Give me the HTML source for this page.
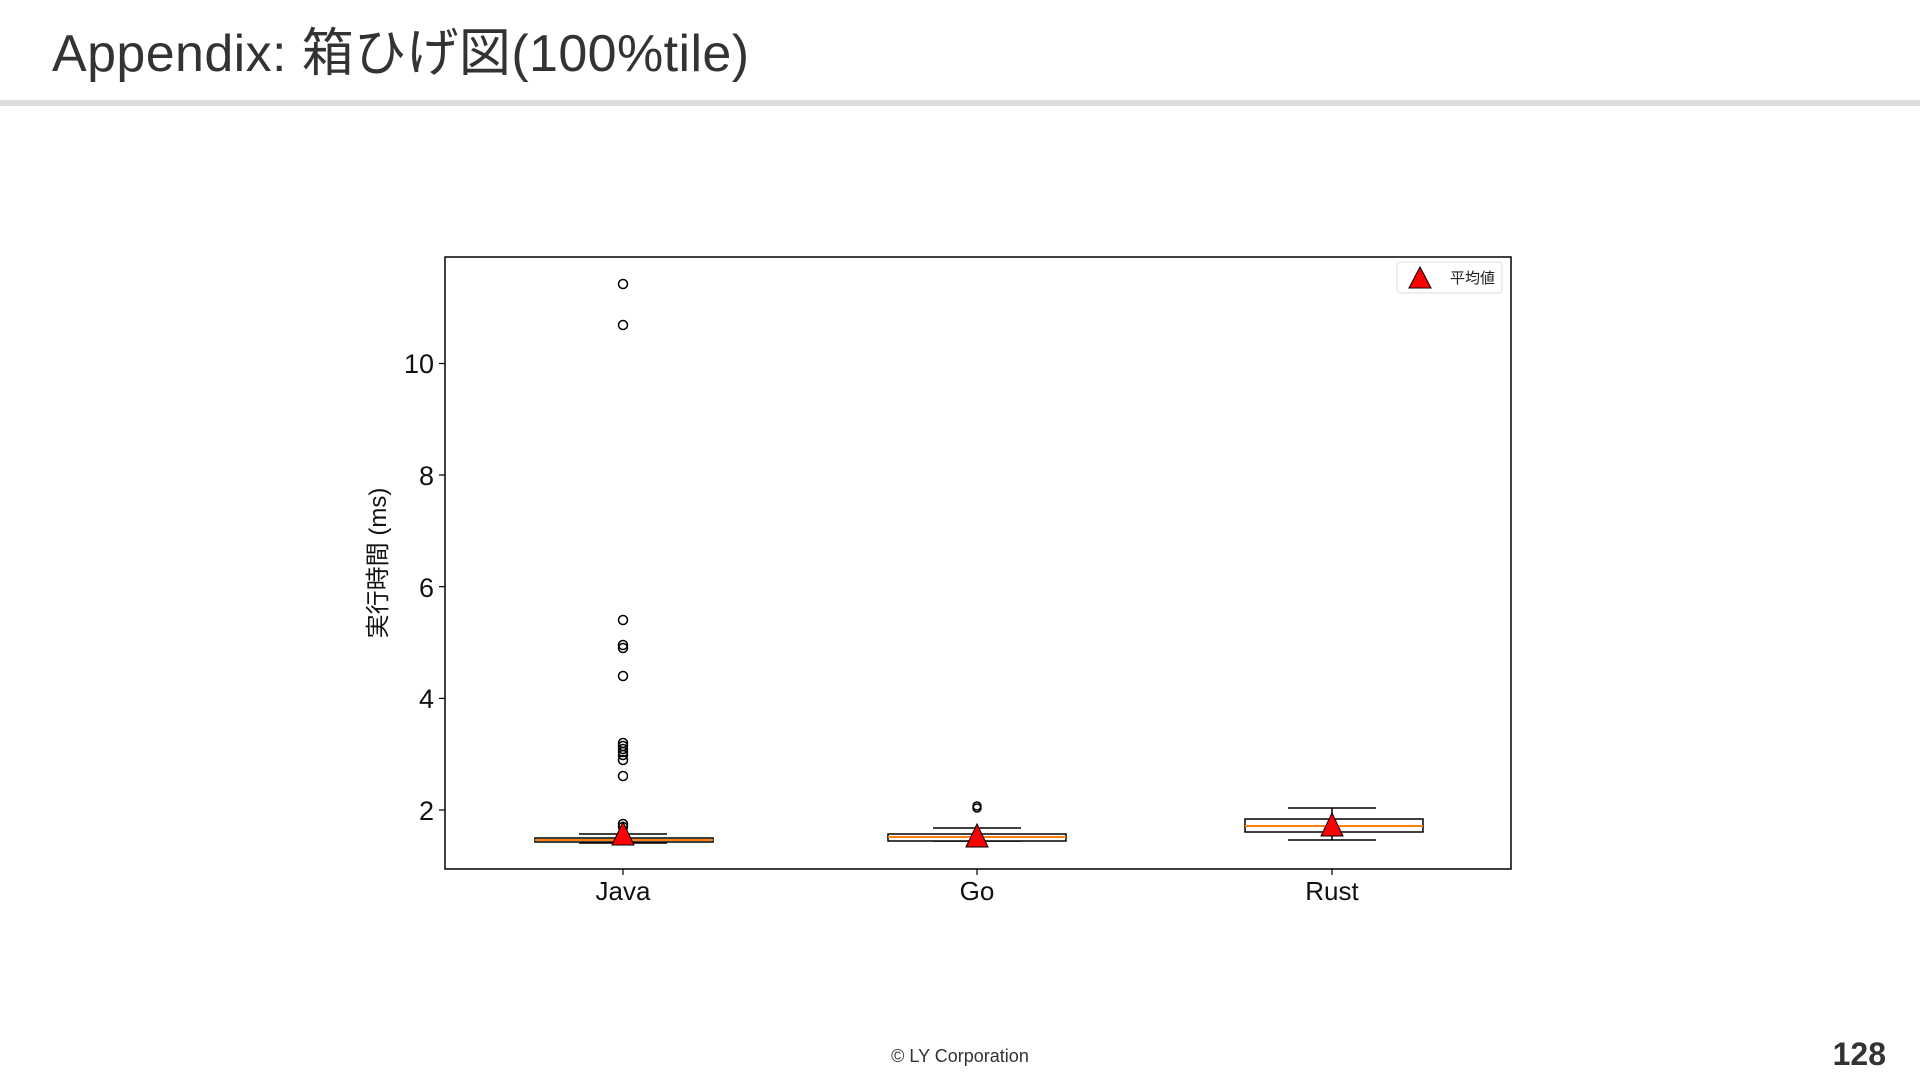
<!DOCTYPE html>
<html><head><meta charset="utf-8"><style>
html,body{margin:0;padding:0;background:#fff;}
body{width:1920px;height:1080px;position:relative;overflow:hidden;font-family:"Liberation Sans","Noto Sans CJK JP",sans-serif;}
.title{position:absolute;left:52px;top:11px;font-size:52px;color:#333;white-space:nowrap;letter-spacing:0.4px;}
.bar{position:absolute;left:0;top:100px;width:1920px;height:6px;background:#dcdcdc;}
.foot{position:absolute;left:0;width:1920px;top:1046px;text-align:center;font-size:18px;color:#333;}
.pn{position:absolute;right:34px;top:1036px;font-size:32px;font-weight:bold;color:#333;}
</style></head><body>
<div class="title">Appendix: 箱ひげ図(100%tile)</div>
<div class="bar"></div>
<svg width="1920" height="1080" style="position:absolute;left:0;top:0" font-family="Liberation Sans, Noto Sans CJK JP, sans-serif">
<rect x="445" y="257" width="1066" height="612" fill="none" stroke="#000" stroke-width="1.5"/>
<g stroke="#000" stroke-width="1.2">
<line x1="439" y1="810" x2="445" y2="810"/><line x1="439" y1="698.4" x2="445" y2="698.4"/>
<line x1="439" y1="586.7" x2="445" y2="586.7"/><line x1="439" y1="475" x2="445" y2="475"/>
<line x1="439" y1="363.5" x2="445" y2="363.5"/>
<line x1="623" y1="869" x2="623" y2="875"/><line x1="977" y1="869" x2="977" y2="875"/><line x1="1332" y1="869" x2="1332" y2="875"/>
</g>
<g font-size="27" fill="#111" text-anchor="end">
<text x="434" y="820">2</text><text x="434" y="708">4</text><text x="434" y="597">6</text><text x="434" y="485">8</text><text x="434" y="373">10</text>
</g>
<g font-size="26" fill="#111" text-anchor="middle">
<text x="623" y="900">Java</text><text x="977" y="900">Go</text><text x="1332" y="900">Rust</text>
</g>
<text transform="translate(386,563) rotate(-90)" font-size="24" text-anchor="middle" fill="#111">実行時間 (ms)</text>
<!-- Java -->
<g stroke="#000" stroke-width="1.5" fill="none">
<line x1="623" y1="834" x2="623" y2="843"/>
<line x1="579" y1="834" x2="667" y2="834"/><line x1="579" y1="843" x2="667" y2="843"/>
<rect x="535" y="838" width="178" height="4" fill="#fff"/>
</g>
<line x1="535" y1="840" x2="713" y2="840" stroke="#ff7f0e" stroke-width="2"/>
<g fill="none" stroke="#000" stroke-width="1.5">
<circle cx="623" cy="284" r="4.5"/><circle cx="623" cy="325" r="4.5"/><circle cx="623" cy="620" r="4.5"/>
<circle cx="623" cy="645" r="4.5"/><circle cx="623" cy="648" r="4.5"/><circle cx="623" cy="676" r="4.5"/>
<circle cx="623" cy="743" r="4.5"/><circle cx="623" cy="746" r="4.5"/><circle cx="623" cy="749" r="4.5"/>
<circle cx="623" cy="752" r="4.5"/><circle cx="623" cy="755" r="4.5"/><circle cx="623" cy="760" r="4.5"/>
<circle cx="623" cy="776" r="4.5"/><circle cx="623" cy="824" r="4.5"/><circle cx="623" cy="827" r="4.5"/>
</g>
<polygon points="623,822 612,845 634,845" fill="#f00" stroke="#000" stroke-width="1"/>
<!-- Go -->
<g stroke="#000" stroke-width="1.5" fill="none">
<line x1="977" y1="828" x2="977" y2="841"/>
<line x1="933" y1="828" x2="1021" y2="828"/><line x1="933" y1="841" x2="1021" y2="841"/>
<rect x="888" y="834" width="178" height="7" fill="#fff"/>
<circle cx="977" cy="806" r="4"/><circle cx="977" cy="808" r="4"/>
</g>
<line x1="888" y1="837" x2="1066" y2="837" stroke="#ff7f0e" stroke-width="2"/>
<polygon points="977,824 966,847 988,847" fill="#f00" stroke="#000" stroke-width="1"/>
<!-- Rust -->
<g stroke="#000" stroke-width="1.5" fill="none">
<line x1="1332" y1="808" x2="1332" y2="840"/>
<line x1="1288" y1="808" x2="1376" y2="808"/><line x1="1288" y1="840" x2="1376" y2="840"/>
<rect x="1245" y="819" width="178" height="13" fill="#fff"/>
</g>
<line x1="1245" y1="826" x2="1423" y2="826" stroke="#ff7f0e" stroke-width="2"/>
<polygon points="1332,813 1321,836 1343,836" fill="#f00" stroke="#000" stroke-width="1"/>
<!-- legend -->
<rect x="1397" y="262" width="105" height="31" rx="3" fill="#fff" stroke="#ddd" stroke-width="1"/>
<polygon points="1420,267 1409,288 1431,288" fill="#f00" stroke="#000" stroke-width="1"/>
<text x="1450" y="283" font-size="15" fill="#222">平均値</text>
</svg>
<div class="foot">© LY Corporation</div>
<div class="pn">128</div>
</body></html>
